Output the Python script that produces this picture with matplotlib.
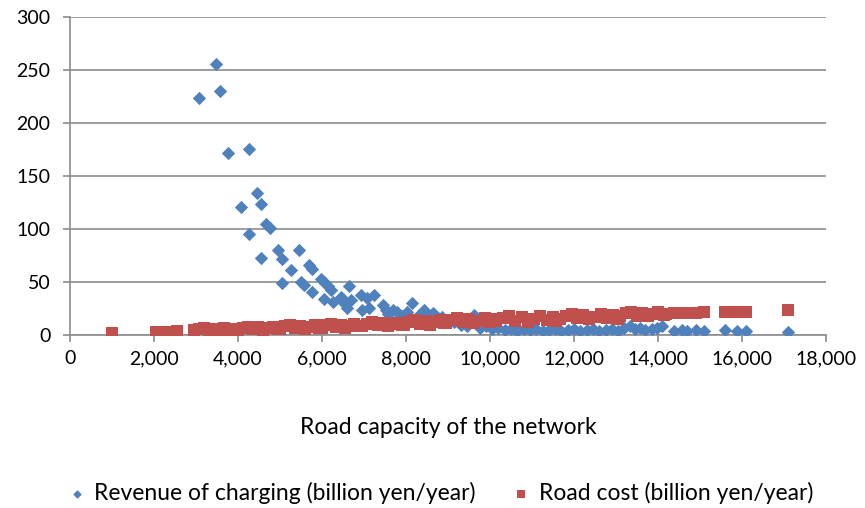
import matplotlib
matplotlib.use('Agg')
import matplotlib.pyplot as plt
from matplotlib.ticker import FuncFormatter

# Revenue of charging (billion yen/year) vs road capacity
rev_capacity = [3070, 3470, 3560, 3760, 4060, 4260, 4260, 4460, 4555, 4555,
                4660, 4755, 4950, 5055, 5055, 5255, 5450, 5490, 5570, 5690,
                5750, 5770, 5970, 6050, 6050, 6130, 6210, 6250, 6440, 6520,
                6600, 6640, 6680, 6920, 6960, 7080, 7120, 7240, 7440, 7520,
                7580, 7680, 7790, 7900, 8030, 8150, 8300, 8430, 8520, 8630,
                8760, 8860, 9000, 9150, 9300, 9450, 9620, 9750, 9900, 10050,
                10200, 10350, 10500, 10650, 10800, 10950, 11100, 11250, 11400, 11550,
                11700, 11850, 12000, 12150, 12300, 12450, 12600, 12750, 12900, 13050,
                13200, 13320, 13450, 13580, 13700, 13850, 13980, 14100, 14380, 14570,
                14690, 14900, 15100, 15600, 15880, 16100, 17100]
revenue = [224, 256, 230, 172, 121, 175, 95, 134, 124, 73,
           105, 101, 80, 72, 49, 61, 80, 50, 47, 66,
           62, 41, 53, 50, 34, 46, 42, 31, 36, 30,
           25, 46, 33, 38, 24, 35, 25, 38, 28, 24,
           20, 24, 22, 18, 22, 30, 19, 24, 18, 21,
           16, 17, 13, 12, 9, 8, 19, 7, 8, 6,
           7, 5, 6, 4, 6, 5, 6, 4, 5, 6,
           4, 5, 6, 4, 5, 6, 4, 5, 6, 4,
           7, 8, 6, 7, 5, 6, 7, 8, 4, 5,
           4, 5, 4, 5, 4, 4, 3]

# Road cost (billion yen/year) vs road capacity
cost_capacity = [1000, 2050, 2300, 2550,
                 2950, 3070, 3190, 3310, 3430, 3550, 3670, 3790, 3910,
                 4000, 4120, 4240, 4360, 4480, 4600, 4720, 4840, 4940,
                 5000, 5120, 5240, 5360, 5480, 5600, 5720, 5840, 5930,
                 6000, 6110, 6220, 6330, 6440, 6550, 6660, 6770, 6880,
                 6960, 7080, 7200, 7320, 7440, 7560, 7680, 7800, 7900,
                 7960, 8080, 8200, 8320, 8440, 8560, 8680, 8800, 8900,
                 8960, 9090, 9220, 9350, 9480, 9610, 9740, 9870, 10000, 10080,
                 10150, 10300, 10450, 10600, 10750, 10900, 11050, 11200, 11350, 11500, 11580,
                 11660, 11800, 11940, 12080, 12220, 12360, 12500, 12640, 12780, 12920, 13040,
                 13100, 13230, 13360, 13490, 13620, 13750, 13880, 14010, 14140, 14200,
                 14380, 14570, 14690, 14900, 15100, 15600, 15880, 16100, 17100]
cost = [2.0, 3.0, 3.0, 3.5,
        4.4, 5.6, 6.3, 4.8, 5.9, 4.5, 6.2, 5.0, 5.7,
        5.0, 6.8, 7.7, 5.6, 7.2, 4.8, 6.4, 7.8, 5.9,
        6.0, 8.2, 9.3, 6.8, 8.8, 5.6, 7.7, 9.4, 7.0,
        7.0, 9.2, 10.0, 7.6, 9.6, 6.7, 8.5, 10.0, 8.0,
        8.2, 10.6, 11.8, 9.0, 11.2, 8.0, 10.0, 11.6, 9.4,
        9.6, 12.4, 14.2, 10.6, 13.4, 9.5, 11.8, 14.4, 11.0,
        11.2, 14.0, 15.8, 12.2, 15.0, 11.0, 13.4, 16.0, 12.6, 14.6,
        12.8, 16.0, 17.8, 13.6, 17.0, 12.5, 15.2, 18.2, 14.0, 16.6, 13.2,
        15.0, 18.2, 19.6, 15.8, 19.0, 15.0, 17.4, 19.8, 16.2, 18.8, 15.4,
        17.6, 20.4, 21.6, 18.0, 21.2, 17.5, 19.6, 21.8, 18.6, 20.2,
        20.6, 21.0, 21.2, 21.0, 21.4, 21.8, 21.6, 21.8, 23.6]

x_ticks = list(range(0, 18001, 2000))
y_ticks = list(range(0, 301, 50))

plt.rcParams['font.family'] = ['Lato', 'DejaVu Sans']

fig = plt.figure(figsize=(8.65, 5.08), dpi=100)
ax = fig.add_axes([0.081, 0.3406, 0.874, 0.626])

ax.scatter(rev_capacity, revenue, marker='D', s=46, color='#4F81BD',
           linewidths=0, label='Revenue of charging (billion yen/year)', zorder=3)
ax.scatter(cost_capacity, cost, marker='s', s=72, color='#C0504D',
           linewidths=0, label='Road cost (billion yen/year)', zorder=4)

ax.set_xlim(0, 18000)
ax.set_ylim(0, 300)
ax.set_xticks(x_ticks)
ax.set_yticks(y_ticks)
ax.xaxis.set_major_formatter(FuncFormatter(lambda v, p: '{:,.0f}'.format(v)))

ax.grid(axis='y', color='#8c8c8c', linewidth=1.2)
ax.set_axisbelow(True)
for side in ['top', 'right']:
    ax.spines[side].set_visible(False)
for side in ['left', 'bottom']:
    ax.spines[side].set_color('#8c8c8c')
    ax.spines[side].set_linewidth(1.2)
ax.tick_params(axis='both', colors='#8c8c8c', length=5, width=1.2,
               labelcolor='black', labelsize=14)
ax.tick_params(axis='y', pad=9)
ax.tick_params(axis='x', pad=6)

ax.set_xlabel('Road capacity of the network', fontsize=16.5, labelpad=36)

fig.legend(loc='lower center', bbox_to_anchor=(0.509, -0.032), ncol=2, frameon=False,
           fontsize=16.5, handlelength=0.8, handletextpad=0.35, columnspacing=1.6,
           markerscale=0.65)

fig.savefig('out.png', dpi=100)
